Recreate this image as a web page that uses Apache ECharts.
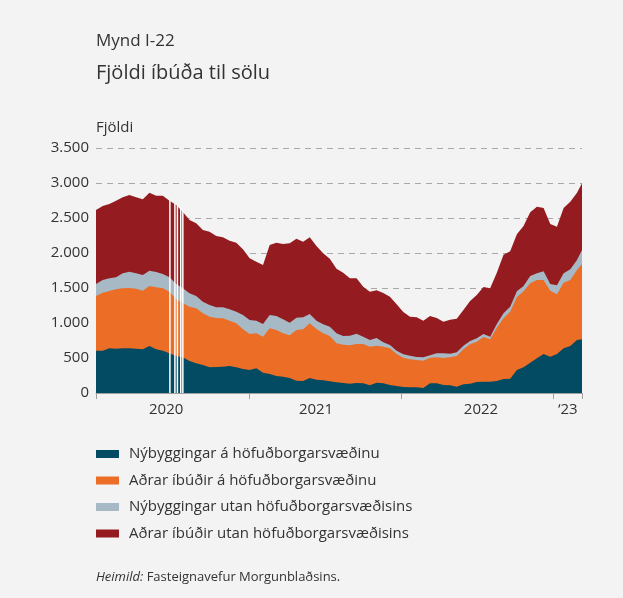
<!DOCTYPE html>
<html>
<head>
<meta charset="utf-8">
<title>Fjöldi íbúða til sölu</title>
<script src="https://cdn.jsdelivr.net/npm/echarts@6.0.0/dist/echarts.min.js"></script>
<style>
  html, body { margin: 0; padding: 0; background: #f3f3f3; }
  #main { width: 623px; height: 598px; }
</style>
</head>
<body>
<div id="main"></div>
<script>
var dates = [
  '2020-01-01','2020-01-17','2020-02-02','2020-02-18','2020-03-05','2020-03-21','2020-04-06','2020-04-22',
  '2020-05-08','2020-05-24','2020-06-09','2020-06-25','2020-07-11','2020-07-27','2020-08-12','2020-08-28',
  '2020-09-13','2020-09-29','2020-10-15','2020-10-31','2020-11-16','2020-12-02','2020-12-18','2021-01-03',
  '2021-01-19','2021-02-04','2021-02-20','2021-03-08','2021-03-24','2021-04-09','2021-04-25','2021-05-11',
  '2021-05-27','2021-06-12','2021-06-28','2021-07-14','2021-07-30','2021-08-15','2021-08-31','2021-09-16',
  '2021-10-02','2021-10-18','2021-11-03','2021-11-19','2021-12-05','2021-12-21','2022-01-06','2022-01-22',
  '2022-02-07','2022-02-23','2022-03-11','2022-03-27','2022-04-12','2022-04-28','2022-05-14','2022-05-30',
  '2022-06-15','2022-07-01','2022-07-17','2022-08-02','2022-08-18','2022-09-03','2022-09-19','2022-10-05',
  '2022-10-21','2022-11-06','2022-11-22','2022-12-08','2022-12-24','2023-01-09','2023-01-25','2023-02-10',
  '2023-02-26','2023-03-10'
];

// Nýbyggingar á höfuðborgarsvæðinu
var nyHofud = [
  605,605,638,633,638,638,633,624,671,624,605,567,529,510,457,424,
  400,367,371,376,386,367,343,329,352,290,271,243,233,214,176,171,
  214,190,181,167,152,143,133,143,138,110,148,138,114,100,86,81,
  81,71,138,138,114,110,90,124,133,157,162,162,171,200,205,329,
  367,433,495,557,519,557,638,671,757,767
];
// Aðrar íbúðir á höfuðborgarsvæðinu
var adrarHofud = [
  781,828,819,848,857,862,858,838,858,886,890,881,809,771,776,786,
  738,723,700,691,647,628,567,514,500,515,653,657,619,610,724,739,
  781,724,671,647,558,547,548,557,562,552,528,524,524,457,419,400,
  390,391,367,372,386,400,439,500,562,576,638,605,762,867,957,1038,
  1085,1134,1119,1057,943,853,938,943,1000,1076
];
// Nýbyggingar utan höfuðborgarsvæðisins
var nyUtan = [
  171,181,181,171,215,233,219,224,219,219,205,204,219,214,191,176,
  167,167,153,157,162,167,204,200,181,181,190,200,200,181,176,171,
  134,119,129,134,142,124,138,148,105,95,110,62,48,48,47,52,
  43,48,33,57,67,52,52,52,48,48,43,38,53,71,71,85,
  77,104,96,124,95,128,134,153,143,200
];
// Aðrar íbúðir utan höfuðborgarsvæðisins
var adrarUtan = [
  1057,1057,1062,1096,1085,1096,1085,1081,1114,1090,1119,1096,1129,1091,1047,1038,
  1024,1048,1019,1000,981,986,938,881,843,843,1000,1048,1077,1133,1129,1081,
  1095,1067,1014,971,924,905,819,790,714,691,681,705,690,662,605,557,
  567,523,562,504,452,486,481,510,571,619,671,690,733,838,791,815,
  857,910,952,905,857,838,933,966,962,952
];

// days with no data (white gaps) and the total height there
var gapDates = ['2020-06-26','2020-07-08','2020-07-14','2020-07-22','2020-07-27'];
var gapTotals = [2760, 2700, 2680, 2660, 2600];

var seriesNames = [
  'Nýbyggingar á höfuðborgarsvæðinu',
  'Aðrar íbúðir á höfuðborgarsvæðinu',
  'Nýbyggingar utan höfuðborgarsvæðisins',
  'Aðrar íbúðir utan höfuðborgarsvæðisins'
];
var seriesColors = ['#034a63', '#ec6d26', '#a6b9c4', '#941b1f'];

var yearTicks = ['2020-01-01', '2021-01-01', '2022-01-01', '2023-01-01', '2023-03-10'];
var yearLabelDates = ['2020-06-17', '2021-06-11', '2022-07-11', '2023-02-04'];
var yearLabels = ['2020', '2021', '2022', '\u201823'];

var font = 'Open Sans';
var txt = '#333333';

function ts(d) { return Date.UTC(+d.slice(0, 4), +d.slice(5, 7) - 1, +d.slice(8, 10)); }
var labelTs = yearLabelDates.map(ts);

// stack the layers: each area is drawn from zero up to its running total,
// the upper layers are drawn first so the lower ones sit on top of them
var layers = [nyHofud, adrarHofud, nyUtan, adrarUtan];
var running = dates.map(function () { return 0; });
var series = layers.map(function (vals, i) {
  running = running.map(function (s, j) { return s + vals[j]; });
  return {
    name: seriesNames[i],
    type: 'line',
    data: running.map(function (s, j) { return [ts(dates[j]), s]; }),
    showSymbol: false,
    symbol: 'none',
    lineStyle: { width: 0 },
    areaStyle: { color: seriesColors[i], opacity: 1 },
    itemStyle: { color: seriesColors[i] },
    z: 10 - i
  };
});
series.push({
  name: 'gap',
  type: 'bar',
  barWidth: 1.5,
  data: gapDates.map(function (d, i) { return [ts(d), gapTotals[i]]; }),
  itemStyle: { color: '#ffffff' },
  z: 20
});

var myChart = echarts.init(document.getElementById('main'), null, { renderer: 'canvas' });
myChart.setOption({
  animation: false,
  backgroundColor: '#f3f3f3',
  textStyle: { fontFamily: font, color: txt },
  title: [
    { text: 'Mynd I-22', left: 96, top: 33, padding: 0,
      textStyle: { fontFamily: font, fontSize: 17, fontWeight: 'normal', color: txt } },
    { text: 'Fjöldi íbúða til sölu', left: 96, top: 63, padding: 0,
      textStyle: { fontFamily: font, fontSize: 20, fontWeight: 'normal', color: txt } },
    { text: '{i|Heimild:} Fasteignavefur Morgunblaðsins.', left: 96, top: 571, padding: 0,
      textStyle: { fontFamily: font, fontSize: 13, fontWeight: 'normal', color: txt,
        rich: { i: { fontFamily: font, fontSize: 13, fontStyle: 'italic', color: txt } } } }
  ],
  legend: {
    data: seriesNames,
    orient: 'vertical',
    left: 96,
    top: 445,
    padding: 0,
    icon: 'rect',
    itemWidth: 23,
    itemHeight: 8,
    itemGap: 8.5,
    selectedMode: false,
    textStyle: { fontFamily: font, fontSize: 15, color: txt, lineHeight: 18, padding: [0, 0, 0, 5] }
  },
  grid: { left: 96, right: 41, top: 148, bottom: 205, containLabel: false },
  xAxis: {
    type: 'value',
    min: ts(dates[0]),
    max: ts(dates[dates.length - 1]),
    axisLine: { lineStyle: { color: '#a0a0a0', width: 1 } },
    axisTick: { show: true, length: 6, lineStyle: { color: '#a0a0a0' },
      customValues: yearTicks.map(ts) },
    axisLabel: {
      customValues: labelTs,
      formatter: function (v) {
        var i = labelTs.indexOf(v);
        return i >= 0 ? yearLabels[i] : '';
      },
      fontFamily: font, fontSize: 15, color: txt, margin: 9
    },
    splitLine: { show: false }
  },
  yAxis: {
    type: 'value',
    min: 0,
    max: 3500,
    interval: 500,
    name: 'Fjöldi',
    nameLocation: 'end',
    nameGap: 13,
    nameTextStyle: { fontFamily: font, fontSize: 15, color: txt, align: 'left' },
    axisLine: { show: false },
    axisTick: { show: false },
    axisLabel: {
      fontFamily: font, fontSize: 15, color: txt, margin: 7,
      formatter: function (v) { return String(v).replace(/\B(?=(\d{3})+(?!\d))/g, '.'); }
    },
    splitLine: { lineStyle: { color: '#a8a8a8', type: [6, 5], width: 1 } }
  },
  series: series
});
</script>
</body>
</html>
